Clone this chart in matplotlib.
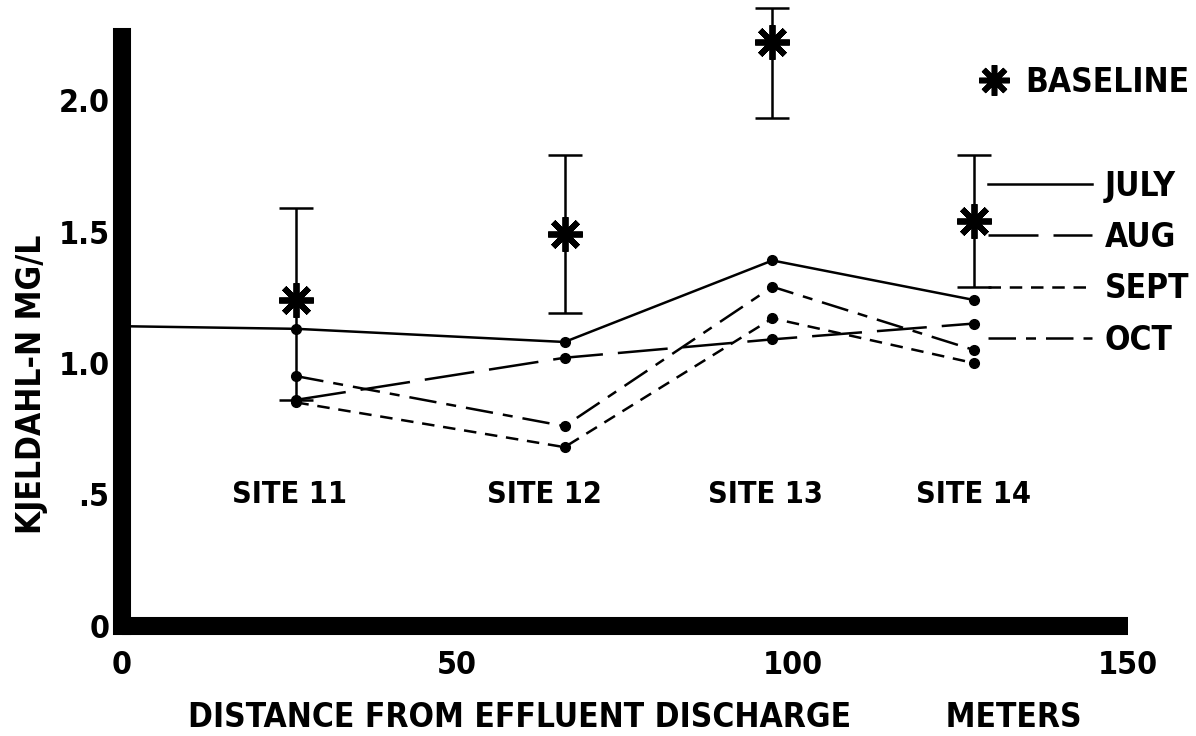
import matplotlib
matplotlib.use("Agg")
import matplotlib.pyplot as plt
from matplotlib.lines import Line2D
from matplotlib.markers import MarkerStyle

plt.rcParams["font.family"] = ["DejaVu Sans"]
plt.rcParams["font.stretch"] = "condensed"
plt.rcParams["font.weight"] = "bold"

# distance from effluent discharge (m)
site_x = [26, 66, 97, 127]
site_names = ["SITE 11", "SITE 12", "SITE 13", "SITE 14"]
site_label_x = [25, 63, 96, 127]

july_x = [0, 26, 66, 97, 127]
july = [1.14, 1.13, 1.08, 1.39, 1.24]
aug = [0.86, 1.02, 1.09, 1.15]
sept = [0.85, 0.68, 1.17, 1.00]
oct_ = [0.95, 0.76, 1.29, 1.05]

baseline = [1.24, 1.49, 2.22, 1.54]
base_lo = [0.86, 1.19, 1.93, 1.29]
base_hi = [1.59, 1.79, 2.35, 1.79]

xticks = [0, 50, 100, 150]
yticks = [0, 0.5, 1.0, 1.5, 2.0]
ytick_labels = ["0", ".5", "1.0", "1.5", "2.0"]

FS = 24
lw = 1.8
star = MarkerStyle((8, 2, 0), capstyle="round")
dot = dict(marker="o", markersize=7, color="black", lw=lw)
styles = {
    "JULY": "-",
    "AUG": (0, (20, 6)),
    "SEPT": (0, (5, 3.5)),
    "OCT": (0, (11, 4, 4, 4)),
}

fig = plt.figure(figsize=(11.96, 7.36), dpi=100)
ax = fig.add_axes([0.102, 0.1495, 0.841, 0.8003])

ax.plot(july_x, july, linestyle=styles["JULY"], markevery=[1, 2, 3, 4], **dot)
ax.plot(site_x, aug, linestyle=styles["AUG"], **dot)
ax.plot(site_x, sept, linestyle=styles["SEPT"], **dot)
ax.plot(site_x, oct_, linestyle=styles["OCT"], **dot)

err = [[b - lo for b, lo in zip(baseline, base_lo)],
       [hi - b for b, hi in zip(baseline, base_hi)]]
eb = ax.errorbar(site_x, baseline, yerr=err, fmt="none", ecolor="black",
                 elinewidth=lw, capsize=12, capthick=lw)
for art in list(eb.lines[1]) + list(eb.lines[2]):
    art.set_clip_on(False)
ax.plot(site_x, baseline, linestyle="none", marker=star, markersize=25,
        markeredgewidth=4.2, color="black", clip_on=False, zorder=5)

for x, name in zip(site_label_x, site_names):
    ax.text(x, 0.5, name, ha="center", va="center", fontsize=22,
            fontweight="bold")

ax.set_xlim(0, 150)
ax.set_ylim(0, 2.24)
ax.set_xticks(xticks)
ax.set_xticklabels([str(t) for t in xticks])
ax.set_yticks(yticks)
ax.set_yticklabels(ytick_labels)
ax.tick_params(length=0, labelsize=23)
ax.tick_params(axis="x", pad=17)
ax.tick_params(axis="y", pad=9)

for s in ["top", "right"]:
    ax.spines[s].set_visible(False)
for s in ["left", "bottom"]:
    ax.spines[s].set_linewidth(13)
ax.spines["bottom"].set_capstyle("butt")

ax.set_xlabel("DISTANCE FROM EFFLUENT DISCHARGE         METERS",
              fontsize=FS, fontweight="bold")
ax.xaxis.set_label_coords(0.51, -0.128)
ax.set_ylabel("KJELDAHL-N MG/L", fontsize=FS, fontweight="bold")
ax.yaxis.set_label_coords(-0.074, 0.41)

base_handle = [Line2D([], [], linestyle="none", marker=star,
                      markersize=22, markeredgewidth=4.0, color="black")]
leg1 = fig.legend(base_handle, ["BASELINE"], loc="center right",
                  bbox_to_anchor=(1.0, 1 - 82 / 736), frameon=False,
                  fontsize=FS, handlelength=1.0, handletextpad=0.45,
                  borderaxespad=0, borderpad=0.2)

month_handles = [Line2D([], [], color="black", lw=lw, linestyle=styles[m])
                 for m in styles]
leg2 = fig.legend(month_handles, list(styles), loc="upper right",
                  bbox_to_anchor=(1.0, 1 - 163 / 736), frameon=False,
                  fontsize=FS, handlelength=3.1, handletextpad=0.4,
                  labelspacing=0.55, borderaxespad=0, borderpad=0.2)

fig.savefig("out.png", dpi=100)
